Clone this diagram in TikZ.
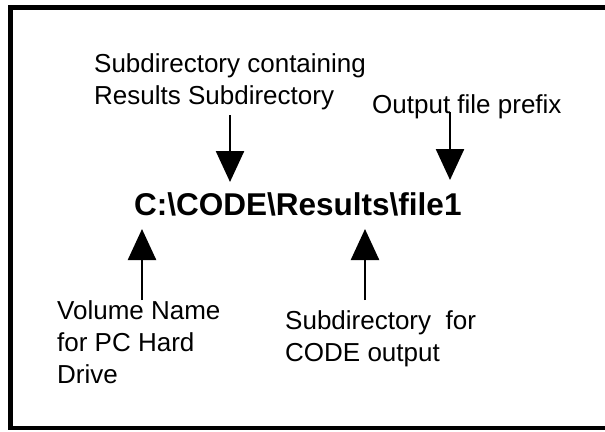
\documentclass[tikz,border=0pt]{standalone}
\usepackage{fontspec}
\setmainfont{Liberation Sans}
\usepackage{tikz}
\usetikzlibrary{arrows.meta}

\tikzset{
	lbl/.style={font=\fontsize{26}{32}\selectfont, inner sep=0pt, align=left, anchor=base west},
	pathtxt/.style={font=\fontsize{31.5}{36}\selectfont\bfseries, inner sep=0pt, anchor=base west},
	pointer/.style={line width=2.5pt, -{Triangle[length=31pt,width=28pt]}}
}

\begin{document}
\begin{tikzpicture}[x=1pt,y=-1pt]
			\useasboundingbox (0,0) rectangle (605,431);
			\fill[white] (0,0) rectangle (605,431);
			\draw[line width=4.5pt] (10.5,7.5) rectangle (615,428);
			\node[pathtxt] (path) at (134,215) {C:\textbackslash CODE\textbackslash Results\textbackslash file1};
			\node[lbl] (contain) at (94,104) {Subdirectory containing\\Results Subdirectory};
			\node[lbl] (prefix) at (372,113) {Output file prefix};
			\node[lbl] (volume) at (57,383.5) {Volume Name\\for PC Hard\\Drive};
			\node[lbl] (output) at (285,361.5) {Subdirectory\ \ for\\CODE output};
			\coordinate (tipcode) at (230,182);
			\coordinate (tipfile) at (450,180);
			\coordinate (tipvol) at (142,229);
			\coordinate (tipres) at (365,229);
			\coordinate (tailcode) at (230,115);
			\coordinate (tailfile) at (450,112);
			\coordinate (tailvol) at (142,300);
			\coordinate (tailres) at (365,300);
			\draw[pointer] (tailcode) -- (tipcode);
			\draw[pointer] (tailfile) -- (tipfile);
			\draw[pointer] (tailvol) -- (tipvol);
			\draw[pointer] (tailres) -- (tipres);
		\end{tikzpicture}
\end{document}
